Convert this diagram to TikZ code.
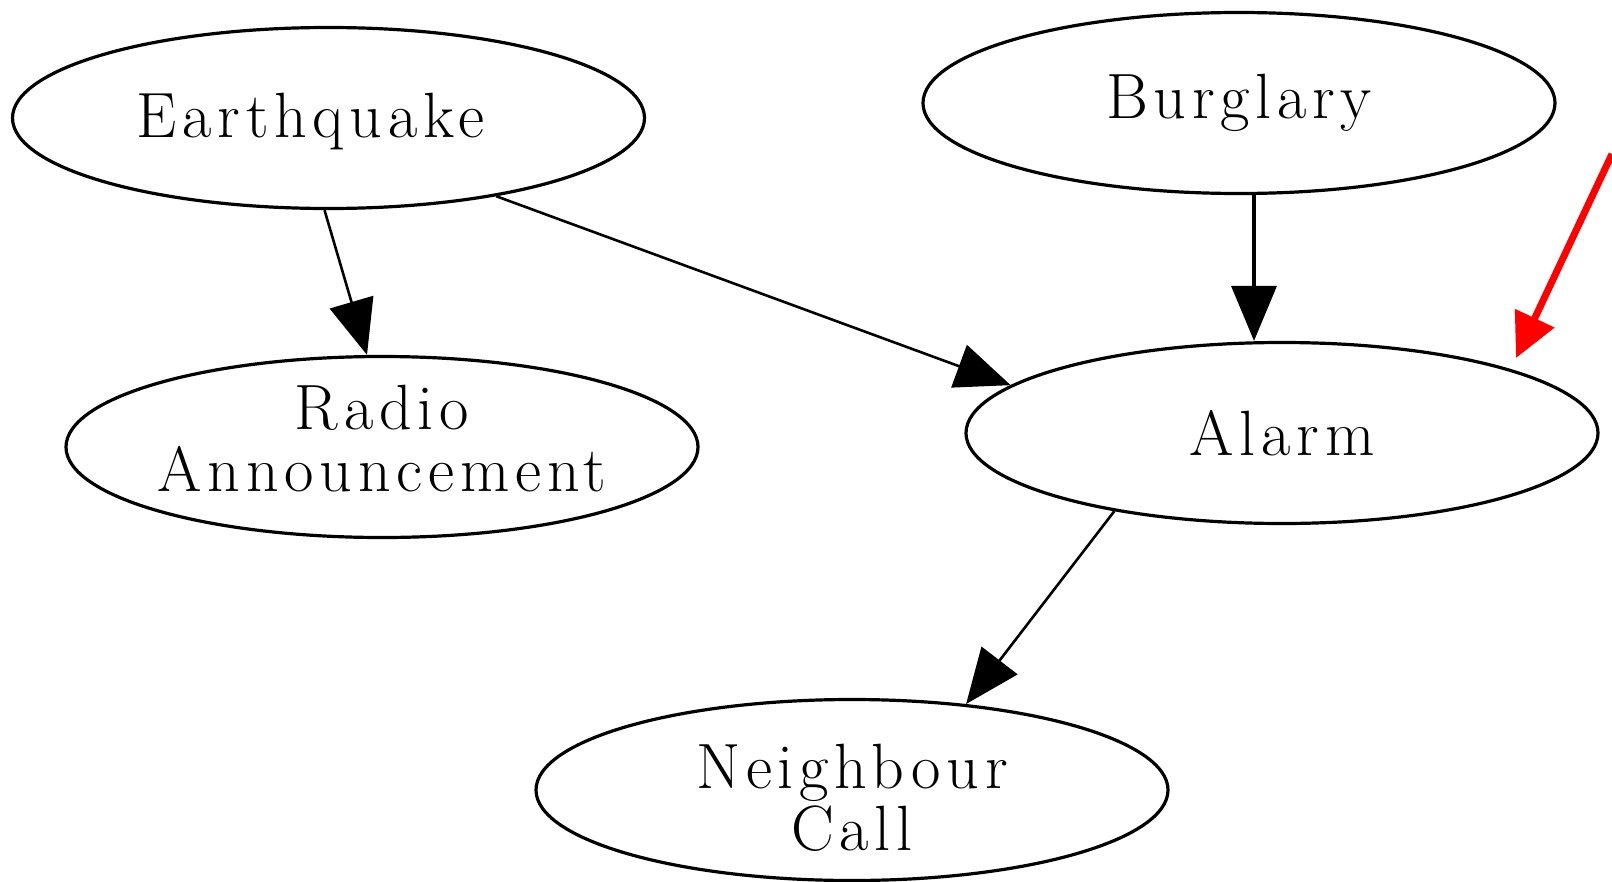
\documentclass[tikz,border=0pt]{standalone}
\usepackage{fontspec}
\setmainfont{Latin Modern Roman}[LetterSpace=9]
\usetikzlibrary{shapes.geometric,arrows.meta}
\begin{document}
\begin{tikzpicture}[x=1pt,y=-1pt,
  nd/.style={ellipse,draw,line width=3.2pt,minimum width=632pt,minimum height=181pt,inner sep=0pt},
  txt/.style={align=center,inner sep=0pt,font=\fontsize{64pt}{63pt}\selectfont},
  edge/.style={line width=2.6pt,-{Triangle[length=55pt,width=45pt]}},
  redarrow/.style={draw=red,line width=7pt,-{Triangle[length=44pt,width=42pt,fill=red]}}
  ]
\useasboundingbox (0,0) rectangle (1612,881);
\node[nd,label={[txt,name=eqt,xshift=-18pt,yshift=-4pt]center:Earthquake}] (eq) at (328.5,118) {};
\node[nd,label={[txt,name=burgt]center:Burglary}] (burg) at (1239,103) {};
\node[nd,label={[txt,name=alarmt]center:Alarm}] (alarm) at (1282,433) {};
\node[nd,label={[txt,name=radiot,yshift=8pt]center:Radio\\[-1pt]Announcement}] (radio) at (382,447) {};
\node[nd,label={[txt,name=neight,yshift=-8pt]center:Neighbour\\[-1pt]Call}] (neigh) at (852,790) {};
\draw[edge] ([xshift=-4pt]eq.south) -- ([xshift=-15pt]radio.north);
\draw[edge] (eq.-25.8) -- (alarm.170.9);
\draw[edge,line width=3.6pt] ([xshift=15pt]burg.south) -- ([xshift=15pt]burg.south |- alarm.north);
\draw[edge] (alarm.-155.4) -- (neigh.37);
\coordinate (redstart) at (1612,154);
\coordinate (redtip) at (1516,358);
\draw[redarrow] (redstart) -- (redtip);
\end{tikzpicture}
\end{document}
